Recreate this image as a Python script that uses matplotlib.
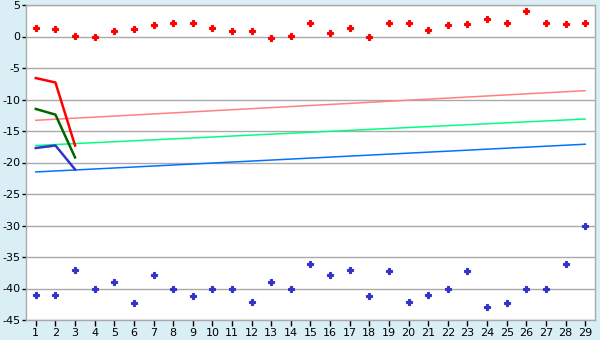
import matplotlib
matplotlib.use("Agg")
import matplotlib.pyplot as plt

categories = list(range(1, 30))
red_points = [1.4, 1.2, 0.15, 0.0, 0.95, 1.2, 1.75, 2.2, 2.2, 1.4,
              0.95, 0.95, -0.2, 0.1, 2.2, 0.6, 1.4, 0.0, 2.2, 2.2,
              1.05, 1.85, 2.0, 2.8, 2.2, 4.1, 2.2, 2.0, 2.2]
blue_points = [-41.0, -41.0, -37.0, -40.0, -38.9, -42.3, -37.8, -40.0, -41.2, -40.0,
               -40.0, -42.2, -38.9, -40.0, -36.1, -37.9, -37.0, -41.2, -37.2, -42.1,
               -41.0, -40.0, -37.2, -42.9, -42.3, -40.0, -40.0, -36.1, -30.0]
short_x = [1, 2, 3]
red_line = [-6.6, -7.3, -17.3]
green_line = [-11.5, -12.4, -19.2]
blue_line = [-17.7, -17.3, -21.1]
trend_x = [1, 29]
pink_trend = [-13.3, -8.6]
lightgreen_trend = [-17.3, -13.1]
blue_trend = [-21.5, -17.1]
y_ticks = [-45, -40, -35, -30, -25, -20, -15, -10, -5, 0, 5]

bg = "#d9eff5"
fig = plt.figure(figsize=(6, 3.4), dpi=100, facecolor=bg)
ax = fig.add_axes([26/600, 1-320/340, 569/600, 315/340])
ax.set_facecolor("white")

for y in y_ticks:
    ax.axhline(y, color="#aaaaaa", lw=1.0, zorder=1)

ax.plot(trend_x, pink_trend, color="#ff8080", lw=1.1, zorder=2)
ax.plot(trend_x, lightgreen_trend, color="#00ff80", lw=1.1, zorder=2)
ax.plot(trend_x, blue_trend, color="#0073ff", lw=1.1, zorder=2)

ax.plot(short_x, red_line, color="#ff0000", lw=1.8, zorder=3)
ax.plot(short_x, green_line, color="#006600", lw=1.8, zorder=3)
ax.plot(short_x, blue_line, color="#3333cc", lw=1.8, zorder=3)

ax.plot(categories, red_points, ls="none", marker="P", ms=4.5, color="#ff0000",
        markeredgewidth=0.8, markeredgecolor="#ff0000", zorder=4)
ax.plot(categories, blue_points, ls="none", marker="P", ms=4.5, color="#3333cc",
        markeredgewidth=0.8, markeredgecolor="#3333cc", zorder=4)

ax.set_xlim(0.5, 29.5)
ax.set_ylim(-45, 5)
ax.set_xticks(categories)
ax.set_xticklabels([str(c) for c in categories])
ax.set_yticks(y_ticks)
ax.set_yticklabels([str(t) for t in y_ticks])
ax.tick_params(axis="x", labelsize=8, color="black", length=4, width=1,
               labelcolor="black", pad=2)
ax.tick_params(axis="y", labelsize=8, color="black", length=3, width=1,
               labelcolor="black", pad=1)
for s in ax.spines.values():
    s.set_color("#aaaaaa")
    s.set_linewidth(1.0)

fig.savefig("out.png", dpi=100, facecolor=bg)
